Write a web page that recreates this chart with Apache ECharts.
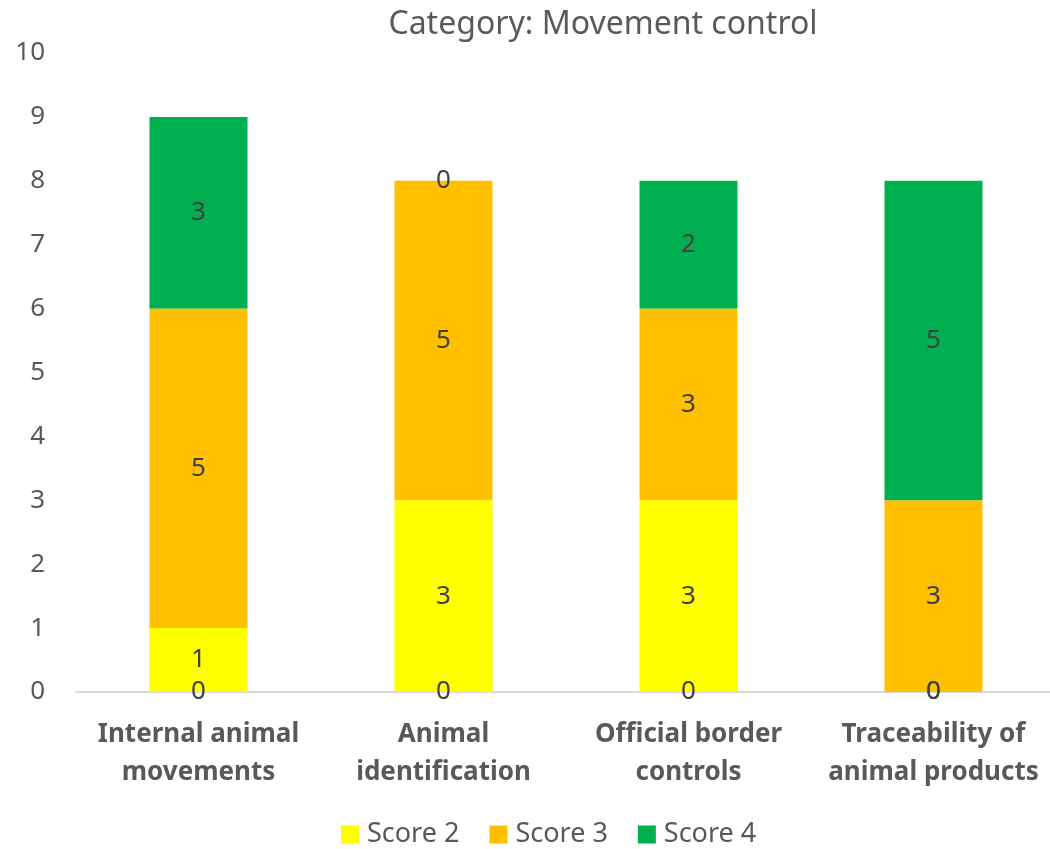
<!DOCTYPE html>
<html>
<head>
<meta charset="utf-8">
<script src="https://cdn.jsdelivr.net/npm/echarts@6/dist/echarts.min.js"></script>
<style>html,body{margin:0;padding:0;background:#fff}#c{width:1050px;height:849px}</style>
</head>
<body>
<div id="c"></div>
<script>
const categories = ['Internal animal\nmovements', 'Animal\nidentification', 'Official border\ncontrols', 'Traceability of\nanimal products'];
const score1 = [0, 0, 0, 0];
const score2 = [1, 3, 3, 0];
const score3 = [5, 5, 3, 3];
const score4 = [3, 0, 2, 5];
const yTicks = { min: 0, max: 10, interval: 1 };

const font = 'Noto Sans';
const lbl = { show: true, position: 'inside', color: '#404040', fontSize: 26, fontFamily: font };
function mk(name, data, color) {
  return { name, type: 'bar', stack: 'total', data, barWidth: 98, itemStyle: { color }, label: lbl, emphasis: { disabled: true } };
}
const chart = echarts.init(document.getElementById('c'), null, { renderer: 'canvas' });
chart.setOption({
  animation: false,
  backgroundColor: '#ffffff',
  title: { text: 'Category: Movement control', left: 598, textAlign: 'center', top: 4,
    textStyle: { color: '#595959', fontSize: 32, fontWeight: 'normal', fontFamily: font } },
  legend: { data: ['Score 2', 'Score 3', 'Score 4'], bottom: -4, left: 336, itemWidth: 18, itemHeight: 18, itemGap: 30,
    icon: 'rect', textStyle: { color: '#595959', fontSize: 27, fontFamily: font, padding: [0, 0, 0, 3] } },
  grid: { left: 76, width: 980, top: 53, bottom: 157, containLabel: false, outerBoundsMode: 'none' },
  xAxis: { type: 'category', data: categories,
    axisLine: { lineStyle: { color: '#D9D9D9', width: 2 } }, axisTick: { show: false },
    axisLabel: { color: '#595959', fontSize: 26, fontWeight: 'bold', fontFamily: font, lineHeight: 38, margin: 24, interval: 0 } },
  yAxis: { type: 'value', min: yTicks.min, max: yTicks.max, interval: yTicks.interval,
    axisLine: { show: false }, axisTick: { show: false }, splitLine: { show: false },
    axisLabel: { color: '#595959', fontSize: 26, fontFamily: font, margin: 31 } },
  series: [
    mk('Score 1', score1, '#FF0000'),
    mk('Score 2', score2, '#FFFF00'),
    mk('Score 3', score3, '#FFC000'),
    mk('Score 4', score4, '#00B050')
  ]
});
</script>
</body>
</html>
